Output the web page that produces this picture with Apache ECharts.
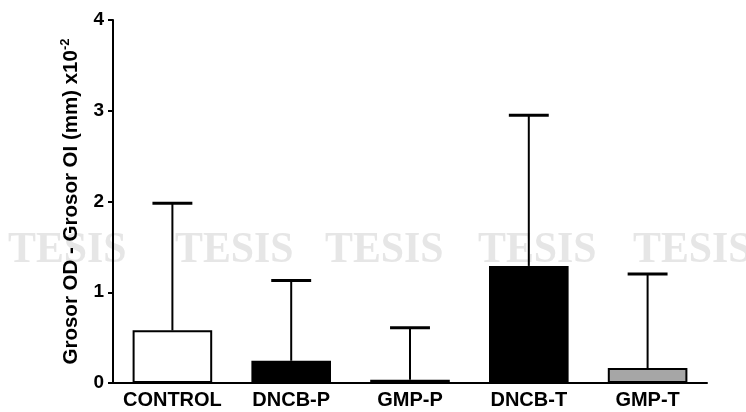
<!DOCTYPE html>
<html>
<head>
<meta charset="utf-8">
<script src="https://cdn.jsdelivr.net/npm/echarts@6/dist/echarts.min.js"></script>
<style>
html,body{margin:0;padding:0;background:#fff;}
#chart{width:746px;height:412px;}
</style>
</head>
<body>
<div id="chart"></div>
<script>
const categories = ['CONTROL', 'DNCB-P', 'GMP-P', 'DNCB-T', 'GMP-T'];
const means = [0.58, 0.245, 0.035, 1.29, 0.165];
const sds = [1.40, 0.885, 0.575, 1.66, 1.035];
const yTicks = [0, 1, 2, 3, 4];
const barColors = ['#ffffff', '#000000', '#a6a6a6', '#000000', '#a6a6a6'];
const watermarkX = [8, 175, 325, 478, 633];

const chart = echarts.init(document.getElementById('chart'));
const font = 'Arial, "Liberation Sans", Helvetica, sans-serif';

const option = {
  animation: false,
  backgroundColor: '#ffffff',
  graphic: watermarkX.map(x => ({
    type: 'text',
    left: x,
    top: 229,
    z: -10,
    silent: true,
    scaleX: 0.95,
    style: {
      text: 'TESIS',
      font: 'bold 44px "Liberation Serif", "Times New Roman", serif',
      fill: '#e6e6e6'
    }
  })),
  grid: { left: 113, right: 39, top: 20, bottom: 29, containLabel: false },
  xAxis: {
    type: 'category',
    data: categories,
    axisLine: { lineStyle: { color: '#000', width: 2 } },
    axisTick: { show: false },
    axisLabel: { interval: 0, color: '#000', fontWeight: 'bold', fontSize: 20, fontFamily: font, margin: 7 },
    splitLine: { show: false }
  },
  yAxis: {
    type: 'value',
    min: yTicks[0],
    max: yTicks[yTicks.length - 1],
    interval: 1,
    name: '{a|Grosor OD - Grosor OI (mm) x10}{b|-2}',
    nameLocation: 'middle',
    nameGap: 31,
    nameRotate: 90,
    nameTextStyle: {
      color: '#000',
      fontFamily: font,
      rich: {
        a: { fontSize: 20.5, fontWeight: 'bold', fontFamily: font, color: '#000', verticalAlign: 'bottom', lineHeight: 23 },
        b: { fontSize: 13, fontWeight: 'bold', fontFamily: font, color: '#000', verticalAlign: 'top', lineHeight: 23, padding: [0, 0, 9, 0] }
      }
    },
    axisLine: { show: true, lineStyle: { color: '#000', width: 2 } },
    axisTick: { show: true, length: 5, inside: false, lineStyle: { color: '#000', width: 2 } },
    axisLabel: { color: '#000', fontWeight: 'bold', fontSize: 19, fontFamily: font, margin: 9 },
    splitLine: { show: false }
  },
  series: [
    {
      type: 'bar',
      barWidth: '67%',
      data: means.map((v, i) => ({
        value: v,
        itemStyle: { color: barColors[i], borderColor: '#000', borderWidth: 2 }
      })),
      z: 2
    },
    {
      type: 'custom',
      z: 3,
      data: means.map((m, i) => [i, m, m + sds[i]]),
      renderItem: function (params, api) {
        const p0 = api.coord([api.value(0), api.value(1)]);
        const p1 = api.coord([api.value(0), api.value(2)]);
        const half = api.size([1, 0])[0] * 0.168;
        return {
          type: 'group',
          children: [
            { type: 'line', shape: { x1: p0[0], y1: p0[1], x2: p1[0], y2: p1[1] }, style: { stroke: '#000', lineWidth: 2 } },
            { type: 'line', shape: { x1: p1[0] - half, y1: p1[1], x2: p1[0] + half, y2: p1[1] }, style: { stroke: '#000', lineWidth: 3 } }
          ]
        };
      }
    }
  ]
};
chart.setOption(option);
</script>
</body>
</html>
